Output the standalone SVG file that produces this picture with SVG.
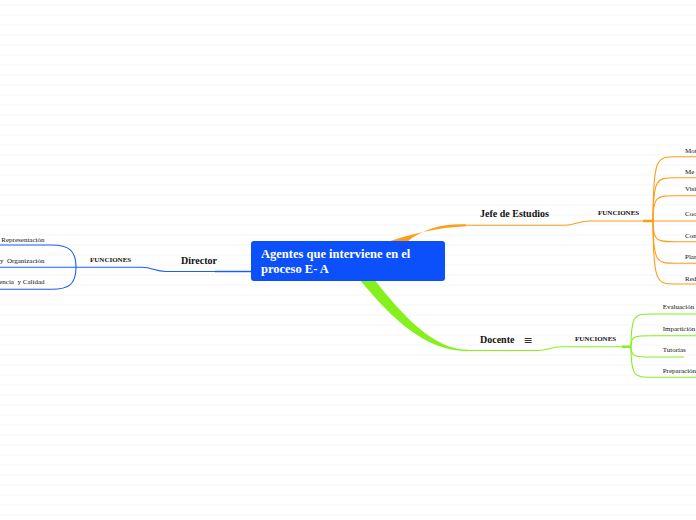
<svg xmlns="http://www.w3.org/2000/svg" width="696" height="520" viewBox="0 0 696 520">
<defs>
<style>
.t{font-family:"Liberation Serif","Times New Roman",serif;fill:#111}
.main{font-size:12.5px;font-weight:bold;fill:#fff}
.sub{font-size:10px;font-weight:bold}
.fn{font-size:7px;font-weight:bold}
.lb{font-size:7px;white-space:pre}
.o{fill:none;stroke:#ff9c1a;stroke-width:1.1}
.g{fill:none;stroke:#86f01c;stroke-width:1.1}
.b{fill:none;stroke:#1a5cff;stroke-width:1.1}
</style>
<pattern id="lines" width="696" height="10" patternUnits="userSpaceOnUse"><rect y="4.5" width="696" height="1" fill="#f5f5f5"/></pattern>
</defs>
<rect width="696" height="520" fill="#fff"/>
<rect width="696" height="520" fill="url(#lines)"/>

<g id="connectors">
  <!-- Director -->
  <path class="b" d="M251,271.5 L166,271.5 C155,271.5 152,267.3 142,267.3 L76,267.3"/>
  <path class="b" style="stroke-width:1.6" d="M251,271.5 L215,271.5"/>
  <path class="b" d="M76,267.3 C76,250 68,245 52,245 H0"/>
  <path class="b" d="M76,267.3 H0"/>
  <path class="b" d="M76,267.3 C76,285 68,289.3 52,289.3 H0"/>
  <!-- Jefe de Estudios -->
  <path fill="#ff9c1a" d="M407,242 C423,229 441,223.8 466,224.4 L466,226.2 C438,227.5 410,233.5 382,244 Z"/>
  <path class="o" d="M464,225.3 H565 C575,225.3 578,221 590,221 H653"/>
  <path class="o" style="stroke-width:2.5" d="M643,221 H653"/>
  <path class="o" d="M653,221 C653,156.7 657,156.7 676,156.7 H696"/>
  <path class="o" d="M653,221 C653,177.7 657,177.7 676,177.7 H696"/>
  <path class="o" d="M653,221 C653,195.7 657,195.7 676,195.7 H696"/>
  <path class="o" d="M653,221 H696"/>
  <path class="o" d="M653,221 C653,241.7 657,241.7 676,241.7 H696"/>
  <path class="o" d="M653,221 C653,263.3 657,263.3 676,263.3 H696"/>
  <path class="o" d="M653,221 C653,284 657,284 676,284 H696"/>
  <!-- Docente -->
  <path fill="#86f01c" d="M374,279 C403,316 434,349.8 468,349.8 L468,351.2 C426,351.2 393,320 359,279 Z"/>
  <path class="g" d="M466,350.5 H538 C548,350.5 550,346.7 562,346.7 H631"/>
  <path class="g" style="stroke-width:2.5" d="M622,346.7 H631"/>
  <path class="g" d="M631,346.7 C631,314 635,314 652,314 H696"/>
  <path class="g" d="M631,346.7 C631,335.7 635,335.7 652,335.7 H696"/>
  <path class="g" d="M631,346.7 C631,357 635,357 652,357 H684"/>
  <path class="g" d="M631,346.7 C631,377.3 635,377.3 652,377.3 H696"/>
</g>

<g id="central">
  <rect x="251" y="241" width="194" height="40" rx="3" fill="#0b50fb"/>
  <text class="t main" x="261" y="257.5">Agentes que interviene en el</text>
  <text class="t main" x="261" y="272.5">proceso E- A</text>
</g>

<g id="director">
  <text class="t sub" x="181" y="263.5">Director</text>
</g>
<g id="funciones-director">
  <text class="t fn" x="90" y="261.5">FUNCIONES</text>
</g>
<g id="director-items">
  <text class="t lb" x="44.5" y="241.5" text-anchor="end">Representación</text>
  <text class="t lb" x="44.5" y="262.5" text-anchor="end">y  Organización</text>
  <text class="t lb" x="44.5" y="283.5" text-anchor="end">encia  y Calidad</text>
</g>

<g id="jefe">
  <text class="t sub" x="480" y="216.5">Jefe de Estudios</text>
</g>
<g id="funciones-jefe">
  <text class="t fn" x="598" y="215">FUNCIONES</text>
</g>
<g id="jefe-items">
  <text class="t lb" x="685" y="152.5">Mot</text>
  <text class="t lb" x="685" y="173.5">Me</text>
  <text class="t lb" x="685" y="191">Visi</text>
  <text class="t lb" x="685" y="216">Coo</text>
  <text class="t lb" x="685" y="237.5">Con</text>
  <text class="t lb" x="685" y="259">Plan</text>
  <text class="t lb" x="685" y="280.5">Red</text>
</g>

<g id="docente">
  <text class="t sub" x="480" y="342.7">Docente</text>
  <text x="528" y="343.5" text-anchor="middle" style="font-family:'DejaVu Sans',sans-serif;font-size:11px;fill:#333">≡</text>
</g>
<g id="funciones-docente">
  <text class="t fn" x="575" y="340.7">FUNCIONES</text>
</g>
<g id="docente-items">
  <text class="t lb" x="662.7" y="309">Evaluación</text>
  <text class="t lb" x="662.7" y="330.7">Impartición</text>
  <text class="t lb" x="662.7" y="352.3">Tutorías</text>
  <text class="t lb" x="662.7" y="372.6">Preparación</text>
</g>
</svg>
